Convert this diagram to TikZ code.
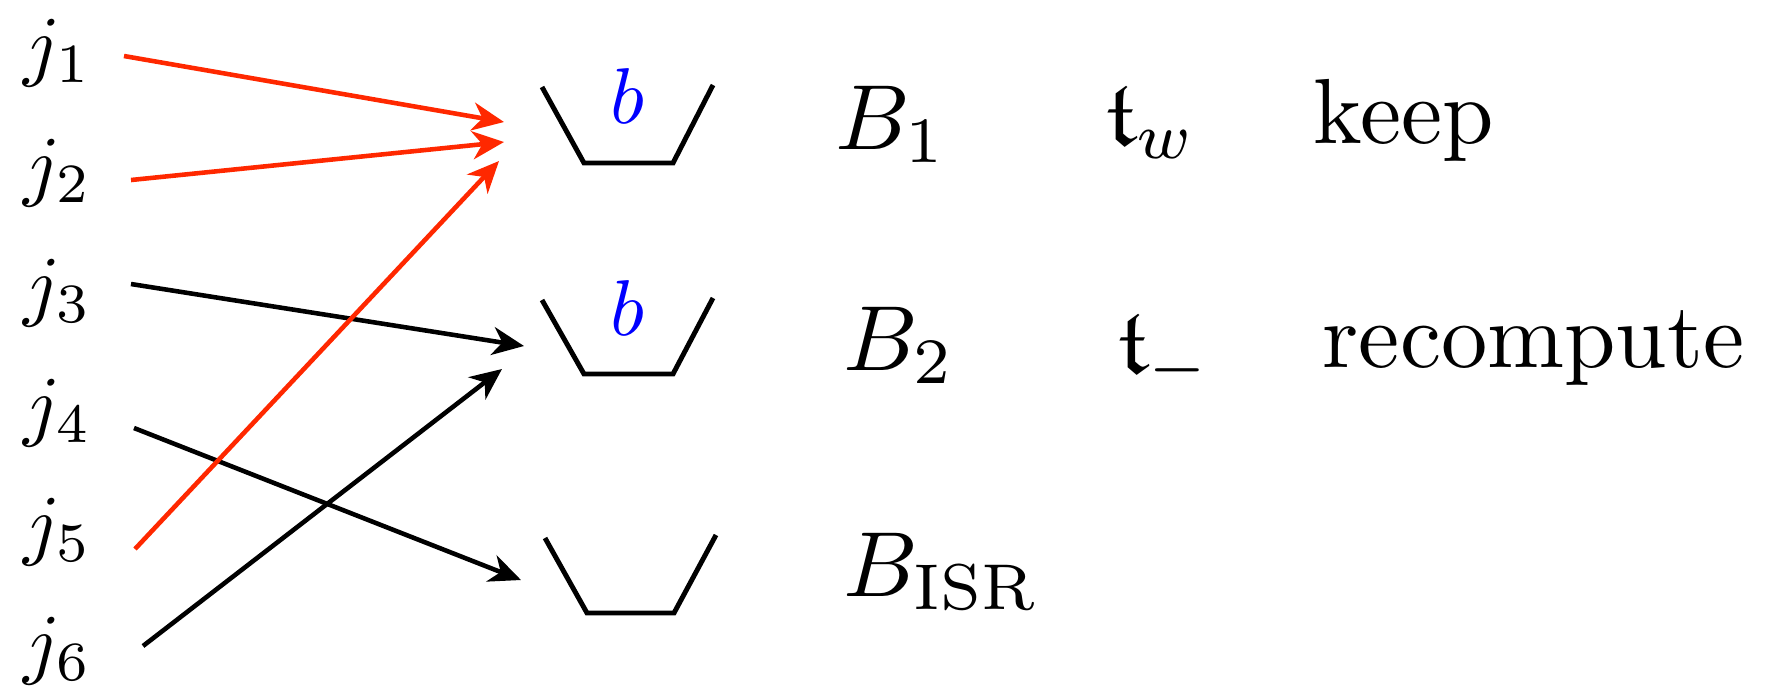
\documentclass[tikz,border=0pt]{standalone}
\usepackage{amssymb}
\usepackage{graphicx}
\usetikzlibrary{arrows.meta}
\definecolor{arrred}{RGB}{255,40,0}
\definecolor{bblue}{RGB}{0,0,255}
\newcommand{\lsz}[1]{\scalebox{2.25}{\fontsize{10}{12}\selectfont #1}}
\newcommand{\rsz}[1]{\scalebox{2.63}{\fontsize{10}{12}\selectfont #1}}
\tikzset{
  lbl/.style={inner sep=0pt, anchor=base west},
  blbl/.style={inner sep=0pt, anchor=base, text=bblue},
  conn/.style={line width=1.3pt, -{Stealth[length=9pt,width=8pt,inset=2.8pt]}},
  hot/.style={conn, draw=arrred},
  cold/.style={conn, draw=black},
  bucket/.style={line width=1.4pt},
}
\begin{document}
\begin{tikzpicture}[x=0.01cm,y=-0.01cm]
\useasboundingbox (0,0) rectangle (1767,687);
% job labels
\node[lbl] (j1) at (23,71)  {\lsz{$j_1$}};
\node[lbl] (j2) at (23,191) {\lsz{$j_2$}};
\node[lbl] (j3) at (23,311) {\lsz{$j_3$}};
\node[lbl] (j4) at (23,431) {\lsz{$j_4$}};
\node[lbl] (j5) at (23,550) {\lsz{$j_5$}};
\node[lbl] (j6) at (23,669) {\lsz{$j_6$}};
% buckets
\coordinate (b1a) at (542,87);  \coordinate (b1b) at (584,163);
\coordinate (b1c) at (673,163); \coordinate (b1d) at (713,85);
\coordinate (b2a) at (542,300); \coordinate (b2b) at (584,374);
\coordinate (b2c) at (673,374); \coordinate (b2d) at (713,298);
\coordinate (b3a) at (545,538); \coordinate (b3b) at (587,613);
\coordinate (b3c) at (674,613); \coordinate (b3d) at (716,535);
\draw[bucket] (b1a) -- (b1b) -- (b1c) -- (b1d);
\draw[bucket] (b2a) -- (b2b) -- (b2c) -- (b2d);
\draw[bucket] (b3a) -- (b3b) -- (b3c) -- (b3d);
\node[blbl] (bb1) at (627,123) {\lsz{$b$}};
\node[blbl] (bb2) at (627,335) {\lsz{$b$}};
% right labels
\node[lbl] (B1) at (835,149) {\rsz{$B_1$}};
\node[lbl] (B2) at (843,370) {\rsz{$B_2$}};
\node[lbl] (B3) at (843,596) {\rsz{$B_{\mathrm{ISR}}$}};
\node[lbl] (t1) at (1105,145) {\rsz{$\mathfrak{t}_w$}};
\node[lbl] (t2) at (1117,373) {\rsz{$\mathfrak{t}_-$}};
\node[lbl] (k1) at (1313,143) {\rsz{keep}};
\node[lbl] (k2) at (1322,367) {\rsz{recompute}};
% connector end points
\coordinate (s1) at (124,56);  \coordinate (e1) at (504,122);
\coordinate (s2) at (131,180); \coordinate (e2) at (504,142);
\coordinate (s3) at (131,284); \coordinate (e3) at (524,346);
\coordinate (s4) at (134,428); \coordinate (e4) at (521,580);
\coordinate (s5) at (135,549); \coordinate (e5) at (499,161);
\coordinate (s6) at (143,646); \coordinate (e6) at (502,369);
\draw[cold] (s3) -- (e3);
\draw[cold] (s4) -- (e4);
\draw[cold] (s6) -- (e6);
\draw[hot] (s1) -- (e1);
\draw[hot] (s2) -- (e2);
\draw[hot] (s5) -- (e5);
\end{tikzpicture}
\end{document}
